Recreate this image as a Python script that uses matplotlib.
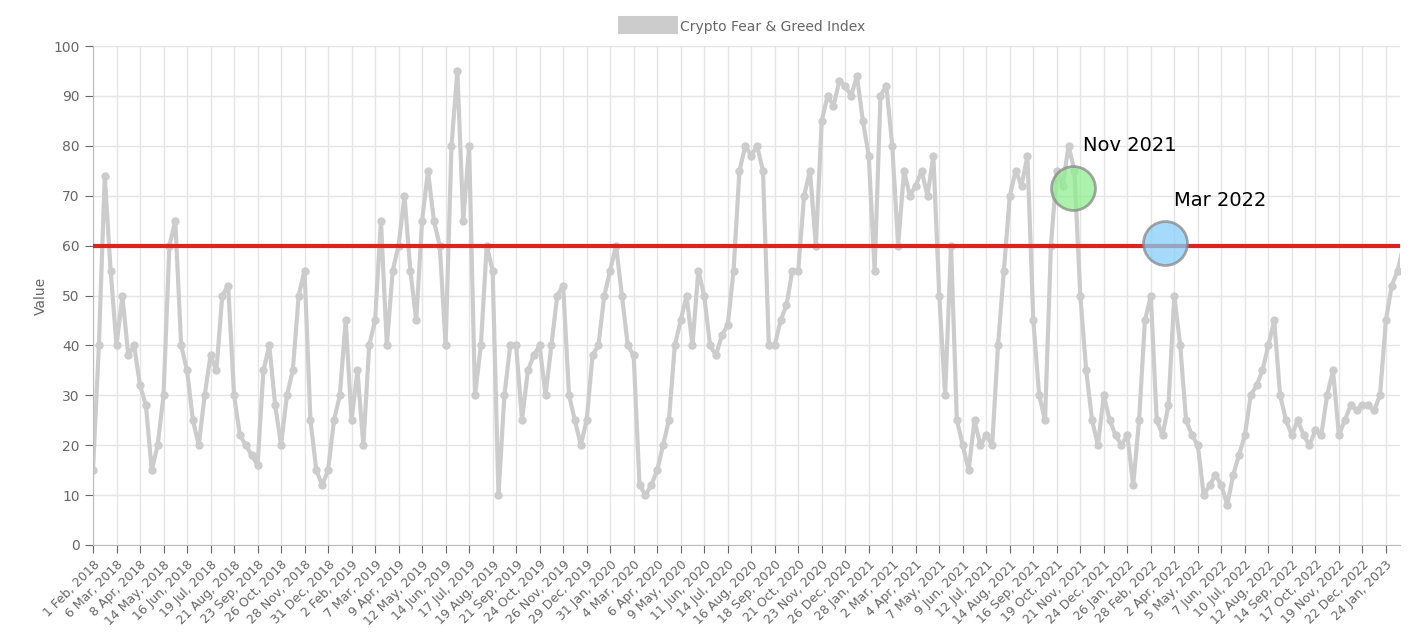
import matplotlib.pyplot as plt
import numpy as np

# tick labels (category axis, every 33rd day shown)
tick_labels = ["1 Feb, 2018", "6 Mar, 2018", "8 Apr, 2018", "14 May, 2018", "16 Jun, 2018", "19 Jul, 2018",
               "21 Aug, 2018", "23 Sep, 2018", "26 Oct, 2018", "28 Nov, 2018", "31 Dec, 2018", "2 Feb, 2019",
               "7 Mar, 2019", "9 Apr, 2019", "12 May, 2019", "14 Jun, 2019", "17 Jul, 2019", "19 Aug, 2019",
               "21 Sep, 2019", "24 Oct, 2019", "26 Nov, 2019", "29 Dec, 2019", "31 Jan, 2020", "4 Mar, 2020",
               "6 Apr, 2020", "9 May, 2020", "11 Jun, 2020", "14 Jul, 2020", "16 Aug, 2020", "18 Sep, 2020",
               "21 Oct, 2020", "23 Nov, 2020", "26 Dec, 2020", "28 Jan, 2021", "2 Mar, 2021", "4 Apr, 2021",
               "7 May, 2021", "9 Jun, 2021", "12 Jul, 2021", "14 Aug, 2021", "16 Sep, 2021", "19 Oct, 2021",
               "21 Nov, 2021", "24 Dec, 2021", "26 Jan, 2022", "28 Feb, 2022", "2 Apr, 2022", "5 May, 2022",
               "7 Jun, 2022", "10 Jul, 2022", "12 Aug, 2022", "14 Sep, 2022", "17 Oct, 2022", "19 Nov, 2022",
               "22 Dec, 2022", "24 Jan, 2023"]

# index values, sampled ~every 8 days (4 samples per tick interval)
fg_values = [
    15, 40, 74, 55,  40, 50, 38, 40,  32, 28, 15, 20,  30, 60, 65, 40,
    35, 25, 20, 30,  38, 35, 50, 52,  30, 22, 20, 18,  16, 35, 40, 28,
    20, 30, 35, 50,  55, 25, 15, 12,  15, 25, 30, 45,  25, 35, 20, 40,
    45, 65, 40, 55,  60, 70, 55, 45,  65, 75, 65, 60,  40, 80, 95, 65,
    80, 30, 40, 60,  55, 10, 30, 40,  40, 25, 35, 38,  40, 30, 40, 50,
    52, 30, 25, 20,  25, 38, 40, 50,  55, 60, 50, 40,  38, 12, 10, 12,
    15, 20, 25, 40,  45, 50, 40, 55,  50, 40, 38, 42,  44, 55, 75, 80,
    78, 80, 75, 40,  40, 45, 48, 55,  55, 70, 75, 60,  85, 90, 88, 93,
    92, 90, 94, 85,  78, 55, 90, 92,  80, 60, 75, 70,  72, 75, 70, 78,
    50, 30, 60, 25,  20, 15, 25, 20,  22, 20, 40, 55,  70, 75, 72, 78,
    45, 30, 25, 60,  75, 72, 80, 75,  50, 35, 25, 20,  30, 25, 22, 20,
    22, 12, 25, 45,  50, 25, 22, 28,  50, 40, 25, 22,  20, 10, 12, 14,
    12, 8, 14, 18,   22, 30, 32, 35,  40, 45, 30, 25,  22, 25, 22, 20,
    23, 22, 30, 35,  22, 25, 28, 27,  28, 28, 27, 30,  45, 52, 55, 60,
]

threshold = 60
annotations = [("Nov 2021", 41.7, 71.5, "#90ee90"), ("Mar 2022", 45.6, 60.5, "#87cefa")]

fig = plt.figure(figsize=(14.28, 6.42), dpi=100)
ax = fig.add_axes([93 / 1428, 1 - 545 / 642, (1400 - 93) / 1428, (545 - 46) / 642])

x = np.arange(len(fg_values)) / 4
ax.plot(x, fg_values, color="#cccccc", linewidth=3, marker="o", markersize=5, zorder=2,
        label="Crypto Fear & Greed Index")
ax.axhline(threshold, color="#dd2222", linewidth=3, zorder=3)

for txt, cx, cy, col in annotations:
    ax.scatter([cx], [cy], s=1000, color=col, alpha=0.75, edgecolor="#888888", linewidth=2, zorder=4)
    ax.text(cx + 0.4, cy + 7.5, txt, fontsize=14, color="black", zorder=5)

ax.set_xlim(0, 55.6)
ax.set_ylim(0, 100)
ax.set_yticks(range(0, 101, 10))
ax.set_xticks(range(len(tick_labels)))
ax.set_xticklabels(tick_labels, rotation=45, ha="right", rotation_mode="anchor")
ax.tick_params(axis="both", labelsize=9, colors="#666666", length=6)
ax.tick_params(axis="y", labelsize=10)
ax.grid(True, color="#e5e5e5", linewidth=1)
ax.set_axisbelow(True)
for s in ["top", "right"]:
    ax.spines[s].set_visible(False)
for s in ["left", "bottom"]:
    ax.spines[s].set_color("#bbbbbb")
ax.set_ylabel("Value", color="#666666", fontsize=10)

leg = ax.legend(loc="lower center", bbox_to_anchor=(0.5, 1.0), frameon=False, fontsize=10,
                handlelength=3, handleheight=1.2, labelcolor="#666666")
leg.legend_handles[0].set_marker("")
leg.legend_handles[0].set_linewidth(13)

fig.savefig("out.png", dpi=100)
